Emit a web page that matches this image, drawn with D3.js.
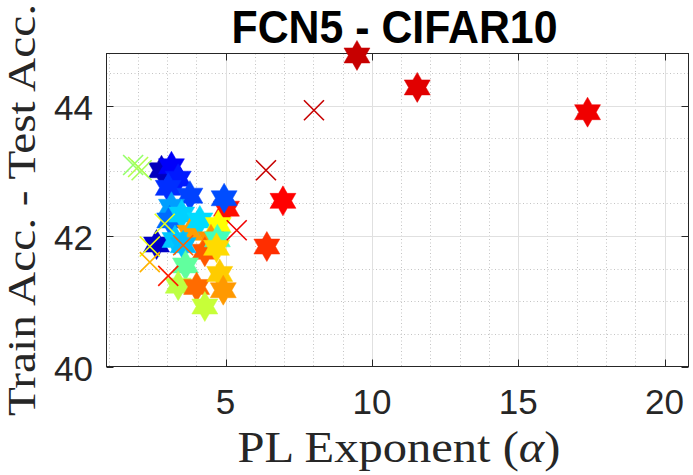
<!DOCTYPE html>
<html>
<head>
<meta charset="utf-8">
<script src="https://cdn.jsdelivr.net/npm/d3@7/dist/d3.min.js"></script>
<style>
body { margin: 0; background: #fff; }
svg { display: block; }
</style>
</head>
<body>
<svg id="chart" width="693" height="475"></svg>
<script>
// star markers (alpha, train-test gap, colour value)
var starAlpha = [2.81, 3.15, 3.38, 3.04, 3.78, 3.15, 3.09, 3.50, 3.78, 4.12, 5.03, 4.95, 4.75,
                 2.64, 4.50, 3.27, 4.29, 4.72, 4.69, 3.55, 3.63, 3.38, 4.01, 4.80, 4.92, 4.29,
                 6.96, 6.41, 9.49, 11.55, 17.37];
var starGap   = [43.01, 43.07, 42.88, 42.74, 42.62, 42.45, 42.24, 42.33, 42.05, 42.24, 42.42, 42.58, 42.17,
                 41.87, 41.95, 41.94, 41.76, 41.95, 41.82, 41.86, 41.55, 41.24, 41.22, 41.42, 41.17, 40.92,
                 42.54, 41.84, 44.77, 44.28, 43.90];
var starCol   = [0.06, 0.12, 0.15, 0.17, 0.19, 0.28, 0.23, 0.33, 0.72, 0.34, 0.86, 0.20, 0.625,
                 0.07, 0.73, 0.32, 0.79, 0.44, 0.66, 0.31, 0.47, 0.56, 0.77, 0.675, 0.725, 0.57,
                 0.875, 0.83, 0.93, 0.905, 0.89];

// cross markers
var crossAlpha = [1.84, 2.01, 2.13, 2.92, 2.41, 2.41, 3.04, 3.55, 5.38, 6.38, 8.02];
var crossGap   = [43.09, 43.06, 43.01, 42.19, 41.84, 41.60, 41.39, 41.86, 42.09, 43.01, 43.93];
var crossCol   = [0.52, 0.55, 0.54, 0.60, 0.61, 0.70, 0.85, 0.78, 0.89, 0.93, 0.93];

var xTicks = [5, 10, 15, 20];
var yTicks = [40, 42, 44];
var xMinor = d3.range(1, 21);
var yMinor = d3.range(40.5, 44.8, 0.5);

var svg = d3.select("#chart");
var pLeft = 106.5, pRight = 688.5, pTop = 53.5, pBottom = 366.5;

var x = d3.scaleLinear().domain([0.93, 20.82]).range([pLeft, pRight]);
var y = d3.scaleLinear().domain([40, 44.8]).range([pBottom, pTop]);

// jet colormap
var jet = d3.scaleLinear()
  .domain([0, 0.125, 0.375, 0.625, 0.875, 1])
  .range(["#000080", "#0000ff", "#00ffff", "#ffff00", "#ff0000", "#800000"]);

// minor grid (dotted)
svg.append("g").selectAll("line").data(xMinor.filter(function(d){ return d % 5 != 0; }))
  .enter().append("line")
  .attr("x1", function(d){ return Math.round(x(d)) + 0.5; })
  .attr("x2", function(d){ return Math.round(x(d)) + 0.5; })
  .attr("y1", pTop).attr("y2", pBottom)
  .attr("stroke", "#c4c4c4").attr("stroke-dasharray", "1,2.5");
svg.append("g").selectAll("line").data(yMinor.filter(function(d){ return Math.abs(d % 2) > 0.01; }))
  .enter().append("line")
  .attr("y1", function(d){ return Math.round(y(d)) + 0.5; })
  .attr("y2", function(d){ return Math.round(y(d)) + 0.5; })
  .attr("x1", pLeft).attr("x2", pRight)
  .attr("stroke", "#c4c4c4").attr("stroke-dasharray", "1,2.5");

// major grid
svg.append("g").selectAll("line").data(xTicks)
  .enter().append("line")
  .attr("x1", function(d){ return Math.round(x(d)) + 0.5; })
  .attr("x2", function(d){ return Math.round(x(d)) + 0.5; })
  .attr("y1", pTop).attr("y2", pBottom)
  .attr("stroke", "#e0e0e0");
svg.append("g").selectAll("line").data(yTicks.slice(1))
  .enter().append("line")
  .attr("y1", function(d){ return Math.round(y(d)) + 0.5; })
  .attr("y2", function(d){ return Math.round(y(d)) + 0.5; })
  .attr("x1", pLeft).attr("x2", pRight)
  .attr("stroke", "#e0e0e0");

// box
svg.append("rect")
  .attr("x", pLeft).attr("y", pTop)
  .attr("width", pRight - pLeft).attr("height", pBottom - pTop)
  .attr("fill", "none").attr("stroke", "#262626").attr("stroke-width", 1);

// tick marks, inward on all sides
var tl = 7;
var ticks = svg.append("g").attr("stroke", "#262626");
xTicks.forEach(function(d) {
  var px = Math.round(x(d)) + 0.5;
  ticks.append("line").attr("x1", px).attr("x2", px).attr("y1", pBottom).attr("y2", pBottom - tl);
  ticks.append("line").attr("x1", px).attr("x2", px).attr("y1", pTop).attr("y2", pTop + tl);
});
yTicks.forEach(function(d) {
  var py = Math.round(y(d)) + 0.5;
  ticks.append("line").attr("y1", py).attr("y2", py).attr("x1", pLeft).attr("x2", pLeft + tl);
  ticks.append("line").attr("y1", py).attr("y2", py).attr("x1", pRight).attr("x2", pRight - tl);
});

// tick labels
svg.append("g").selectAll("text").data(xTicks)
  .enter().append("text")
  .attr("x", function(d){ return x(d); })
  .attr("y", 414)
  .attr("text-anchor", "middle")
  .style("font-family", "'Liberation Sans', Arial, sans-serif")
  .style("font-size", "35px")
  .attr("fill", "#262626")
  .text(function(d){ return d; });
svg.append("g").selectAll("text").data(yTicks)
  .enter().append("text")
  .attr("x", 93)
  .attr("y", function(d){ return y(d) + 14; })
  .attr("text-anchor", "end")
  .style("font-family", "'Liberation Sans', Arial, sans-serif")
  .style("font-size", "35px")
  .attr("fill", "#262626")
  .text(function(d){ return d; });

// hexagram path, points up/down
function hexagram(R) {
  var r = R / Math.sqrt(3), pts = [];
  for (var k = 0; k < 12; k++) {
    var a = -Math.PI / 2 + k * Math.PI / 6;
    var rr = (k % 2 == 0) ? R : r;
    pts.push([rr * Math.cos(a), rr * Math.sin(a)]);
  }
  return "M" + pts.map(function(p){ return p[0].toFixed(2) + "," + p[1].toFixed(2); }).join("L") + "Z";
}
var starPath = hexagram(15);
var s = 10;
var crossPath = "M" + (-s) + "," + (-s) + "L" + s + "," + s + "M" + (-s) + "," + s + "L" + s + "," + (-s);

svg.append("g").selectAll("path").data(d3.range(starAlpha.length))
  .enter().append("path")
  .attr("d", starPath)
  .attr("transform", function(i){ return "translate(" + x(starAlpha[i]) + "," + y(starGap[i]) + ")"; })
  .attr("fill", function(i){ return jet(starCol[i]); })
  .attr("stroke", function(i){ return jet(starCol[i]); })
  .attr("stroke-width", 0.5);

svg.append("g").selectAll("path").data(d3.range(crossAlpha.length))
  .enter().append("path")
  .attr("d", crossPath)
  .attr("transform", function(i){ return "translate(" + x(crossAlpha[i]) + "," + y(crossGap[i]) + ")"; })
  .attr("fill", "none")
  .attr("stroke", function(i){ return jet(crossCol[i]); })
  .attr("stroke-width", 1.6);

// title
svg.append("text")
  .attr("x", 394.5).attr("y", 43)
  .attr("text-anchor", "middle")
  .attr("textLength", 326).attr("lengthAdjust", "spacingAndGlyphs")
  .style("font-family", "'Liberation Sans', Arial, sans-serif")
  .style("font-weight", "bold")
  .style("font-size", "46px")
  .attr("fill", "#000")
  .text("FCN5 - CIFAR10");

// x label
var xl = svg.append("text")
  .attr("x", 399).attr("y", 461.5)
  .attr("text-anchor", "middle")
  .attr("textLength", 323).attr("lengthAdjust", "spacingAndGlyphs")
  .style("font-family", "'Liberation Serif', 'Times New Roman', serif")
  .style("font-size", "44px")
  .attr("fill", "#262626");
xl.append("tspan").text("PL Exponent (");
xl.append("tspan").style("font-style", "italic").text("\u03b1");
xl.append("tspan").text(")");

// y label
svg.append("text")
  .attr("transform", "translate(34.5,210) rotate(-90)")
  .attr("text-anchor", "middle")
  .attr("textLength", 412).attr("lengthAdjust", "spacingAndGlyphs")
  .style("font-family", "'Liberation Serif', 'Times New Roman', serif")
  .style("font-size", "39px")
  .attr("fill", "#262626")
  .text("Train Acc. - Test Acc.");
</script>
</body>
</html>
